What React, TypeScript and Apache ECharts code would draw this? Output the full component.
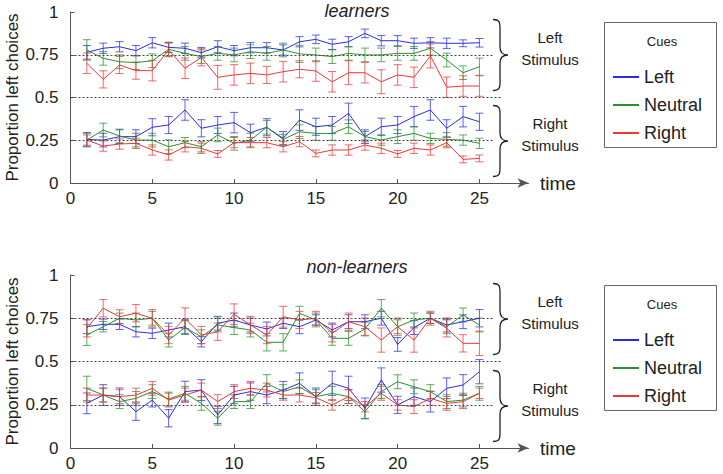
import React, { useEffect, useRef } from "react";
import * as echarts from "echarts";

// ---------- data ----------
const trials = [1, 2, 3, 4, 5, 6, 7, 8, 9, 10, 11, 12, 13, 14, 15, 16, 17, 18, 19, 20, 21, 22, 23, 24, 25];
const xTickValues = [0, 5, 10, 15, 20, 25];
const cueNames = ["Left", "Neutral", "Right"];
const panelTitles = ["learners", "non-learners"];
const stimulusLabels = ["Left\nStimulus", "Right\nStimulus"];

// learners – left stimulus
const lrnLS_left = [0.764, 0.788, 0.797, 0.774, 0.82, 0.793, 0.788, 0.762, 0.797, 0.774, 0.791, 0.791, 0.778, 0.826, 0.84, 0.811, 0.826, 0.875, 0.832, 0.832, 0.817, 0.82, 0.817, 0.817, 0.82];
const lrnLS_neutral = [0.778, 0.729, 0.709, 0.704, 0.715, 0.782, 0.758, 0.739, 0.758, 0.749, 0.768, 0.758, 0.778, 0.755, 0.749, 0.739, 0.758, 0.749, 0.749, 0.758, 0.758, 0.788, 0.719, 0.645, 0.68];
const lrnLS_right = [0.7, 0.606, 0.69, 0.657, 0.657, 0.778, 0.671, 0.735, 0.618, 0.632, 0.641, 0.632, 0.651, 0.665, 0.655, 0.592, 0.645, 0.645, 0.592, 0.632, 0.618, 0.743, 0.56, 0.567, 0.567];
// learners – right stimulus
const lrnRS_left = [0.255, 0.251, 0.271, 0.271, 0.326, 0.339, 0.427, 0.32, 0.339, 0.353, 0.294, 0.326, 0.261, 0.368, 0.329, 0.339, 0.407, 0.271, 0.329, 0.339, 0.388, 0.427, 0.32, 0.388, 0.358];
const lrnRS_neutral = [0.251, 0.31, 0.275, 0.251, 0.251, 0.212, 0.236, 0.212, 0.281, 0.232, 0.251, 0.326, 0.255, 0.3, 0.29, 0.29, 0.329, 0.271, 0.251, 0.271, 0.29, 0.261, 0.255, 0.251, 0.232];
const lrnRS_right = [0.251, 0.216, 0.228, 0.232, 0.193, 0.164, 0.212, 0.203, 0.17, 0.236, 0.236, 0.236, 0.212, 0.242, 0.173, 0.193, 0.193, 0.222, 0.203, 0.17, 0.203, 0.193, 0.236, 0.138, 0.144];
// non-learners – left stimulus
const nonLS_left = [0.701, 0.715, 0.715, 0.672, 0.663, 0.682, 0.701, 0.614, 0.721, 0.74, 0.711, 0.688, 0.721, 0.701, 0.74, 0.682, 0.73, 0.73, 0.75, 0.599, 0.696, 0.75, 0.711, 0.73, 0.75];
const nonLS_neutral = [0.653, 0.701, 0.75, 0.74, 0.75, 0.624, 0.696, 0.643, 0.711, 0.696, 0.682, 0.611, 0.611, 0.779, 0.74, 0.634, 0.634, 0.688, 0.808, 0.701, 0.74, 0.75, 0.701, 0.769, 0.711];
const nonLS_right = [0.692, 0.808, 0.759, 0.779, 0.75, 0.653, 0.75, 0.653, 0.672, 0.773, 0.711, 0.653, 0.759, 0.74, 0.75, 0.663, 0.73, 0.701, 0.624, 0.701, 0.624, 0.75, 0.692, 0.605, 0.605];
// non-learners – right stimulus
const nonRS_left = [0.258, 0.306, 0.297, 0.21, 0.277, 0.172, 0.326, 0.335, 0.191, 0.306, 0.326, 0.306, 0.335, 0.374, 0.297, 0.374, 0.345, 0.229, 0.393, 0.249, 0.297, 0.268, 0.345, 0.364, 0.441];
const nonRS_neutral = [0.345, 0.306, 0.268, 0.287, 0.326, 0.283, 0.316, 0.258, 0.172, 0.268, 0.268, 0.374, 0.326, 0.354, 0.297, 0.316, 0.297, 0.21, 0.326, 0.383, 0.354, 0.326, 0.268, 0.277, 0.316];
const nonRS_right = [0.306, 0.306, 0.297, 0.306, 0.345, 0.277, 0.306, 0.335, 0.268, 0.326, 0.345, 0.335, 0.306, 0.306, 0.291, 0.249, 0.297, 0.239, 0.316, 0.249, 0.239, 0.287, 0.258, 0.268, 0.316];

// error bar half-widths
const lrnLS_left_err = [0.04, 0.03, 0.03, 0.03, 0.03, 0.03, 0.03, 0.03, 0.035, 0.03, 0.03, 0.03, 0.03, 0.03, 0.025, 0.03, 0.03, 0.025, 0.03, 0.03, 0.03, 0.03, 0.03, 0.02, 0.025];
const lrnLS_neutral_err = [0.06, 0.04, 0.04, 0.04, 0.04, 0.04, 0.04, 0.04, 0.04, 0.04, 0.04, 0.04, 0.04, 0.05, 0.04, 0.04, 0.04, 0.04, 0.04, 0.04, 0.04, 0.04, 0.04, 0.04, 0.05];
const lrnLS_right_err = [0.06, 0.05, 0.05, 0.05, 0.06, 0.04, 0.06, 0.05, 0.07, 0.06, 0.06, 0.05, 0.06, 0.05, 0.06, 0.06, 0.07, 0.06, 0.07, 0.06, 0.06, 0.07, 0.06, 0.06, 0.06];
const lrnRS_left_err = [0.04, 0.04, 0.04, 0.04, 0.05, 0.05, 0.06, 0.05, 0.05, 0.06, 0.05, 0.05, 0.04, 0.06, 0.05, 0.05, 0.06, 0.04, 0.05, 0.05, 0.06, 0.06, 0.05, 0.06, 0.05];
const lrnRS_neutral_err = [0.04, 0.04, 0.04, 0.04, 0.04, 0.04, 0.03, 0.03, 0.04, 0.04, 0.04, 0.04, 0.03, 0.04, 0.04, 0.04, 0.04, 0.03, 0.03, 0.04, 0.04, 0.03, 0.04, 0.03, 0.03];
const lrnRS_right_err = [0.03, 0.03, 0.03, 0.03, 0.03, 0.03, 0.03, 0.03, 0.02, 0.03, 0.03, 0.03, 0.03, 0.03, 0.02, 0.03, 0.03, 0.03, 0.03, 0.02, 0.03, 0.03, 0.03, 0.02, 0.02];
const nonLS_left_err = [0.04, 0.03, 0.03, 0.03, 0.03, 0.04, 0.04, 0.03, 0.04, 0.04, 0.04, 0.04, 0.03, 0.04, 0.03, 0.04, 0.04, 0.04, 0.04, 0.04, 0.04, 0.03, 0.04, 0.04, 0.05];
const nonLS_neutral_err = [0.06, 0.03, 0.03, 0.04, 0.04, 0.04, 0.04, 0.04, 0.04, 0.04, 0.04, 0.05, 0.05, 0.04, 0.04, 0.04, 0.04, 0.04, 0.05, 0.04, 0.04, 0.03, 0.04, 0.04, 0.04];
const nonLS_right_err = [0.05, 0.05, 0.04, 0.05, 0.05, 0.05, 0.06, 0.05, 0.05, 0.06, 0.05, 0.05, 0.06, 0.05, 0.04, 0.05, 0.05, 0.05, 0.07, 0.05, 0.07, 0.04, 0.05, 0.05, 0.07];
const nonRS_left_err = [0.06, 0.06, 0.05, 0.05, 0.04, 0.05, 0.06, 0.06, 0.05, 0.05, 0.05, 0.05, 0.05, 0.06, 0.05, 0.07, 0.07, 0.06, 0.07, 0.05, 0.05, 0.06, 0.06, 0.06, 0.07];
const nonRS_neutral_err = [0.07, 0.04, 0.04, 0.04, 0.04, 0.04, 0.04, 0.04, 0.04, 0.04, 0.04, 0.05, 0.04, 0.04, 0.04, 0.04, 0.04, 0.04, 0.04, 0.04, 0.04, 0.04, 0.04, 0.04, 0.04];
const nonRS_right_err = [0.04, 0.04, 0.04, 0.04, 0.04, 0.04, 0.04, 0.04, 0.04, 0.04, 0.04, 0.04, 0.03, 0.04, 0.03, 0.03, 0.04, 0.03, 0.04, 0.03, 0.04, 0.04, 0.04, 0.04, 0.03];

// ---------- styles ----------
const COLORS = ["#2b2be3", "#2a902a", "#f03535"];
const FONT = "'Liberation Sans', Arial, sans-serif";
const AXIS_COLOR = "#555";
const TEXT_COLOR = "#222";

const braceD =
  "M0,0.5 C6,0.5 7,2.5 7,9 L7,28 C7,33 9,36 15,36 C9,36 7,39 7,44 L7,63 C7,69.5 6,71.5 0,71.5";
echarts.graphic.registerShape("brace", echarts.graphic.extendPath(braceD, {}));

const panels = [
  {
    means: [
      [lrnLS_left, lrnLS_neutral, lrnLS_right],
      [lrnRS_left, lrnRS_neutral, lrnRS_right],
    ],
    errs: [
      [lrnLS_left_err, lrnLS_neutral_err, lrnLS_right_err],
      [lrnRS_left_err, lrnRS_neutral_err, lrnRS_right_err],
    ],
  },
  {
    means: [
      [nonLS_left, nonLS_neutral, nonLS_right],
      [nonRS_left, nonRS_neutral, nonRS_right],
    ],
    errs: [
      [nonLS_left_err, nonLS_neutral_err, nonLS_right_err],
      [nonRS_left_err, nonRS_neutral_err, nonRS_right_err],
    ],
  },
];

const GRID_LEFT = 70.5;
const GRID_WIDTH = 458;
const gridsGeom = [
  { top: 12, height: 171 },
  { top: 275, height: 173 },
];

function renderErr(params: any, api: any) {
  const x = api.value(0);
  const m = api.value(1);
  const e = api.value(2);
  const hi = api.coord([x, m + e]);
  const lo = api.coord([x, m - e]);
  const w = 4;
  const style = { stroke: api.visual("color"), lineWidth: 1, opacity: 0.75 };
  return {
    type: "group",
    children: [
      { type: "line", shape: { x1: hi[0], y1: hi[1], x2: lo[0], y2: lo[1] }, style },
      { type: "line", shape: { x1: hi[0] - w, y1: hi[1], x2: hi[0] + w, y2: hi[1] }, style },
      { type: "line", shape: { x1: lo[0] - w, y1: lo[1], x2: lo[0] + w, y2: lo[1] }, style },
    ],
  };
}

function buildOption() {
  const grid: any[] = [];
  const xAxis: any[] = [];
  const yAxis: any[] = [];
  const series: any[] = [];
  const legend: any[] = [];
  const graphic: any[] = [];
  const title: any[] = [];

  gridsGeom.forEach((g, pi) => {
    grid.push({
      left: GRID_LEFT,
      top: g.top,
      width: GRID_WIDTH,
      height: g.height,
      containLabel: false,
      outerBoundsMode: "none",
    });
    xAxis.push({
      type: "value",
      gridIndex: pi,
      min: 0,
      max: 28,
      splitLine: { show: false },
      axisLine: { lineStyle: { color: AXIS_COLOR, width: 1 }, symbol: ["none", "arrow"], symbolSize: [7, 11] },
      axisTick: { inside: true, length: 4, lineStyle: { color: AXIS_COLOR }, customValues: xTickValues },
      axisLabel: { customValues: xTickValues, fontSize: 17, color: TEXT_COLOR, fontFamily: FONT, margin: 7 },
    });
    yAxis.push({
      type: "value",
      gridIndex: pi,
      min: 0,
      max: 1,
      interval: 0.25,
      splitLine: { show: false },
      axisLine: { show: true, lineStyle: { color: AXIS_COLOR, width: 1 } },
      axisTick: { inside: true, length: 4, lineStyle: { color: AXIS_COLOR } },
      axisLabel: { fontSize: 17, color: TEXT_COLOR, fontFamily: FONT, margin: 12 },
      name: "Proportion left choices",
      nameLocation: "middle",
      nameGap: 50,
      nameMoveOverlap: false,
      nameTextStyle: { fontSize: 17, color: TEXT_COLOR, fontFamily: FONT },
    });

    const p = panels[pi];
    p.means.forEach((group, si) => {
      group.forEach((vals, ci) => {
        series.push({
          type: "custom",
          name: "err" + pi + si + ci,
          xAxisIndex: pi,
          yAxisIndex: pi,
          itemStyle: { color: COLORS[ci] },
          renderItem: renderErr,
          data: trials.map((t, k) => [t, vals[k], p.errs[si][ci][k]]),
          silent: true,
          z: 2,
        });
        series.push({
          type: "line",
          name: cueNames[ci],
          xAxisIndex: pi,
          yAxisIndex: pi,
          data: trials.map((t, k) => [t, vals[k]]),
          symbol: "none",
          color: COLORS[ci],
          lineStyle: { width: 1, color: COLORS[ci] },
          silent: true,
          z: 3,
        });
      });
    });

    // dotted reference lines
    series.push({
      type: "line",
      name: "ref" + pi,
      xAxisIndex: pi,
      yAxisIndex: pi,
      data: [],
      silent: true,
      markLine: {
        silent: true,
        symbol: ["none", "none"],
        label: { show: false },
        lineStyle: { type: [2, 2], color: "#444", width: 1 },
        data: [
          [{ coord: [0, 0.75] }, { coord: [25.8, 0.75] }],
          [{ coord: [0, 0.5] }, { coord: [26.3, 0.5] }],
          [{ coord: [0, 0.25] }, { coord: [25.8, 0.25] }],
        ],
      },
    });

    const legendTop = pi === 0 ? 68 : 331;
    legend.push({
      data: cueNames,
      orient: "vertical",
      left: 613,
      top: legendTop,
      icon: "rect",
      itemWidth: 26,
      itemHeight: 2,
      itemGap: 10,
      padding: 0,
      selectedMode: false,
      textStyle: { fontSize: 18, color: TEXT_COLOR, fontFamily: FONT },
    });

    const boxTop = pi === 0 ? 22 : 285;
    graphic.push({
      type: "rect",
      shape: { x: 604.5, y: boxTop + 0.5, width: 112, height: 125 },
      style: { fill: "#fff", stroke: "#666", lineWidth: 1 },
      z: -10,
    });
    graphic.push({
      type: "text",
      x: 662,
      y: boxTop + 19,
      style: { text: "Cues", fontSize: 13, fill: TEXT_COLOR, fontFamily: FONT, align: "center", verticalAlign: "middle" },
    });

    const braceTops = pi === 0 ? [19, 105] : [283, 370];
    braceTops.forEach((bt, si) => {
      graphic.push({
        type: "brace",
        x: 493,
        y: bt,
        style: { stroke: "#222", fill: "none", lineWidth: 1.3 },
      });
      graphic.push({
        type: "text",
        x: 550,
        y: bt + 29,
        style: {
          text: stimulusLabels[si],
          fontSize: 15,
          lineHeight: 22,
          fill: TEXT_COLOR,
          fontFamily: FONT,
          align: "center",
          verticalAlign: "middle",
        },
      });
    });

    graphic.push({
      type: "text",
      x: 540,
      y: g.top + g.height,
      style: { text: "time", fontSize: 19, fill: TEXT_COLOR, fontFamily: FONT, verticalAlign: "middle" },
    });

    title.push({
      text: panelTitles[pi],
      left: 357,
      top: pi === 0 ? 2 : 258,
      padding: 0,
      textAlign: "center",
      textStyle: { fontSize: 18, fontStyle: "italic", fontWeight: "normal", color: TEXT_COLOR, fontFamily: FONT },
    });
  });

  return {
    animation: false,
    backgroundColor: "#fff",
    title,
    grid,
    xAxis,
    yAxis,
    legend,
    series,
    graphic,
  };
}

export default function App() {
  const ref = useRef<HTMLDivElement>(null);
  useEffect(() => {
    document.body.style.margin = "0";
    if (!ref.current) return;
    const chart = echarts.init(ref.current, undefined, { renderer: "svg" });
    chart.setOption(buildOption() as any);
    return () => chart.dispose();
  }, []);
  return <div ref={ref} style={{ width: 723, height: 474 }} />;
}
